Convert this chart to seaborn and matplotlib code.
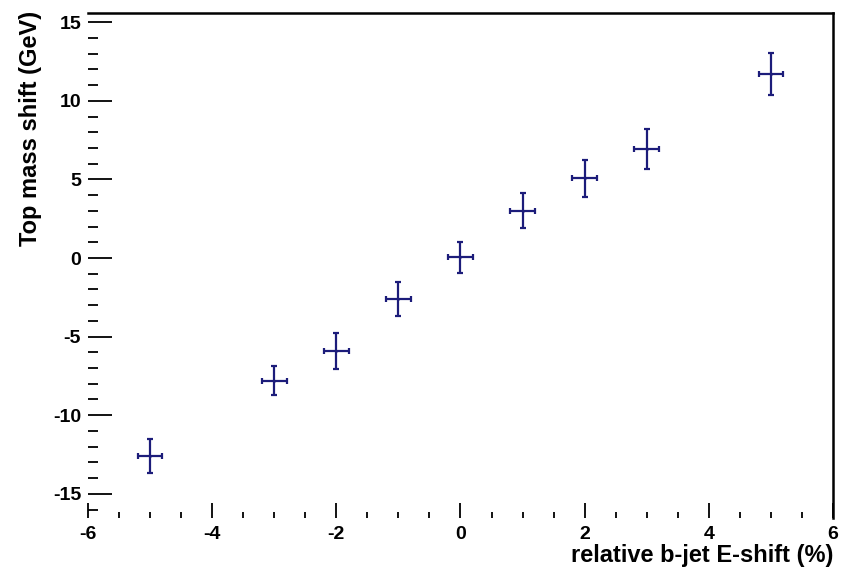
import matplotlib
matplotlib.use("Agg")
import matplotlib.pyplot as plt
from matplotlib.ticker import MultipleLocator
import seaborn as sns
import pandas as pd

# b-jet energy scale shift (%) vs. fitted top mass shift (GeV)
e_shift = [-5, -3, -2, -1, 0, 1, 2, 3, 5]
mass_shift = [-12.6, -7.8, -5.9, -2.6, 0.05, 3.0, 5.06, 6.93, 11.7]
mass_err = [1.1, 0.9, 1.15, 1.1, 1.0, 1.12, 1.18, 1.27, 1.34]
shift_err = [0.2, 0.2, 0.2, 0.2, 0.2, 0.2, 0.2, 0.2, 0.2]

x_ticks = [-6, -4, -2, 0, 2, 4, 6]
y_ticks = [-15, -10, -5, 0, 5, 10, 15]

df = pd.DataFrame({"shift": e_shift, "mass": mass_shift,
                   "err": mass_err, "xerr": shift_err})

sns.set_theme(style="white")
plt.rcParams["font.family"] = ["Liberation Sans", "DejaVu Sans"]
plt.rcParams["axes.unicode_minus"] = False
plt.rcParams["text.color"] = "black"
plt.rcParams["axes.labelcolor"] = "black"
plt.rcParams["xtick.color"] = "black"
plt.rcParams["ytick.color"] = "black"

fig = plt.figure(figsize=(8.41, 5.72), dpi=100)
ax = fig.add_axes([0.1046, 0.0944, 0.8859, 0.8829])

col = "#1c1c7a"
ax.errorbar(df["shift"], df["mass"], yerr=df["err"], xerr=df["xerr"],
            fmt="none", ecolor=col, elinewidth=1.6, capsize=2.5,
            capthick=1.6, zorder=3)
sns.scatterplot(data=df, x="shift", y="mass", ax=ax, color=col,
                s=3, marker="o", edgecolor=col, zorder=4, legend=False)

ax.set_xlim(-6, 6)
ax.set_ylim(-16.54, 15.59)
ax.set_xticks(x_ticks)
ax.set_yticks(y_ticks)
ax.xaxis.set_minor_locator(MultipleLocator(0.5))
ax.yaxis.set_minor_locator(MultipleLocator(1))

ax.tick_params(axis="y", which="both", left=True, right=False,
               direction="in", width=1.3, color="black")
ax.tick_params(axis="y", which="major", length=17, labelsize=14, pad=5)
ax.tick_params(axis="y", which="minor", length=7)
ax.tick_params(axis="x", which="both", bottom=True, top=False,
               direction="in", width=1.3, color="black")
ax.tick_params(axis="x", which="major", length=11, labelsize=14, pad=6)
ax.tick_params(axis="x", which="minor", length=4.5)
for lab in ax.get_xticklabels() + ax.get_yticklabels():
    lab.set_fontweight("bold")

for side in ("left", "bottom"):
    ax.spines[side].set_visible(False)
for side in ("top", "right"):
    ax.spines[side].set_visible(True)
    ax.spines[side].set_color("black")
    ax.spines[side].set_linewidth(1.8)

ax.set_xlabel("relative b-jet E-shift (%)", fontsize=17, fontweight="bold",
              loc="right")
ax.set_ylabel("Top mass shift (GeV)", fontsize=17, fontweight="bold",
              loc="top")
ax.xaxis.set_label_coords(1.0, -0.052)
ax.yaxis.set_label_coords(-0.062, 1.005)

fig.savefig("out.png", dpi=100, facecolor="white")
